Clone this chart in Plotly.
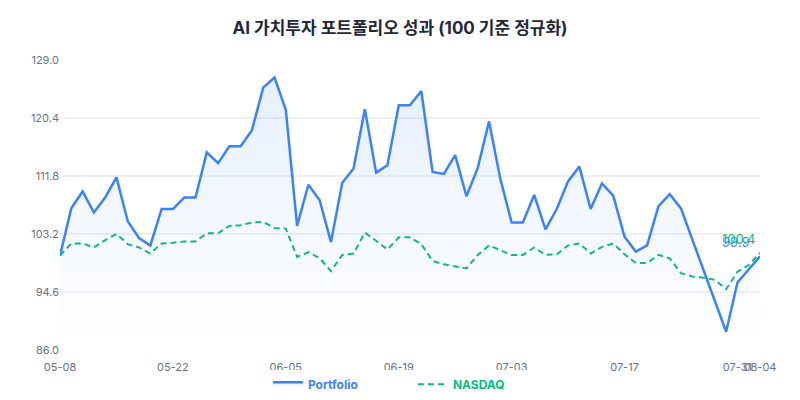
import plotly.graph_objects as go

dates = [
    "05-08", "05-09", "05-12", "05-13", "05-14", "05-15", "05-16",
    "05-19", "05-20", "05-21", "05-22", "05-23",
    "05-26", "05-27", "05-28", "05-29", "05-30",
    "06-02", "06-03", "06-04", "06-05", "06-06",
    "06-09", "06-10", "06-11", "06-12", "06-13",
    "06-16", "06-17", "06-18", "06-19", "06-20",
    "06-23", "06-24", "06-25", "06-26", "06-27",
    "06-30", "07-01", "07-02", "07-03", "07-04",
    "07-07", "07-08", "07-09", "07-10", "07-11",
    "07-14", "07-15", "07-16", "07-17", "07-18",
    "07-21", "07-22", "07-23", "07-24", "07-25",
    "07-28", "07-29", "07-30", "07-31", "08-01", "08-04",
]

portfolio = [
    100.0, 107.0, 109.5, 106.4, 108.6, 111.6, 105.1, 102.6, 101.5, 106.9,
    106.9, 108.6, 108.6, 115.3, 113.7, 116.2, 116.2, 118.6, 124.9, 126.4,
    121.6, 104.4, 110.5, 108.2, 102.0, 110.8, 112.9, 121.7, 112.3, 113.4,
    122.3, 122.3, 124.4, 112.4, 112.1, 114.9, 108.8, 113.0, 119.9, 111.4,
    104.9, 104.9, 109.0, 103.9, 106.9, 111.0, 113.2, 106.9, 110.7, 108.9,
    102.8, 100.6, 101.5, 107.3, 109.1, 107.0, 102.4, 97.9, 93.3, 88.7,
    96.0, 97.9, 99.9,
]

nasdaq = [
    100.0, 101.8, 101.8, 101.2, 102.3, 103.2, 101.7, 101.2, 100.3, 101.8,
    101.9, 102.1, 102.1, 103.3, 103.3, 104.4, 104.5, 104.9, 105.0, 104.1,
    104.0, 99.8, 100.5, 99.6, 97.7, 100.1, 100.3, 103.4, 102.2, 100.9,
    102.7, 102.7, 101.7, 99.2, 98.7, 98.4, 98.1, 100.1, 101.5, 100.8,
    100.1, 100.1, 101.2, 100.1, 100.2, 101.5, 101.8, 100.3, 101.3, 101.8,
    100.2, 98.9, 98.9, 100.1, 99.6, 97.4, 96.9, 96.7, 96.4, 95.0,
    97.6, 98.6, 100.4,
]

x_ticks = ["05-08", "05-22", "06-05", "06-19", "07-03", "07-17", "07-31", "08-04"]
y_ticks = [86.0, 94.6, 103.2, 111.8, 120.4, 129.0]

BLUE = "#3b82f6"
GREEN = "#10b981"
FONT = "Inter, 'Noto Sans CJK KR', sans-serif"

fig = go.Figure()
fig.add_trace(go.Scatter(
    x=dates, y=portfolio, mode="lines",
    name=f"<span style='color:{BLUE}'><b>Portfolio</b></span>",
    line=dict(color=BLUE, width=2.5),
    fill="tozeroy",
    fillgradient=dict(type="vertical", start=86, stop=129,
                      colorscale=[[0, "rgba(59,130,246,0.0)"],
                                  [1, "rgba(59,130,246,0.13)"]]),
))
fig.add_trace(go.Scatter(
    x=dates, y=nasdaq, mode="lines",
    name=f"<span style='color:{GREEN}'><b>NASDAQ</b></span>",
    line=dict(color=GREEN, width=2, dash="6px,4px"),
))

fig.add_annotation(x=dates[-1], y=portfolio[-1], text=f"{portfolio[-1]:.1f}",
                   showarrow=False, xanchor="left", yanchor="bottom",
                   xshift=-40, yshift=4, font=dict(color=BLUE, size=13, family=FONT))
fig.add_annotation(x=dates[-1], y=nasdaq[-1], text=f"{nasdaq[-1]:.1f}",
                   showarrow=False, xanchor="left", yanchor="bottom",
                   xshift=-40, yshift=4, font=dict(color=GREEN, size=13, family=FONT))

fig.update_layout(
    width=792, height=392,
    margin=dict(l=52, r=40, t=52, b=50),
    paper_bgcolor="white", plot_bgcolor="white",
    font=dict(family=FONT, color="#6b7280", size=11),
    title=dict(text="<b>AI 가치투자 포트폴리오 성과 (100 기준 정규화)</b>",
               x=0.495, xanchor="center", y=0.949, yanchor="middle",
               font=dict(size=17, color="#1f2937", family=FONT)),
    showlegend=True,
    legend=dict(orientation="h", x=0.297, xanchor="left",
                yref="container", y=0.040, yanchor="middle",
                font=dict(size=12, family=FONT), itemwidth=30, entrywidth=100),
    xaxis=dict(type="category", tickmode="array", tickvals=x_ticks, ticktext=x_ticks,
               showgrid=False, showline=False, zeroline=False,
               ticks="outside", ticklen=7, tickcolor="rgba(0,0,0,0)",
               tickangle=0, automargin=False,
               range=[0, len(dates) - 1], tickfont=dict(size=11, color="#6b7280")),
    yaxis=dict(range=[86, 129], tickmode="array", tickvals=y_ticks, tickformat=".1f",
               showgrid=True, gridcolor="#f0f0f3", gridwidth=1.5, zeroline=False,
               showline=False, ticks="", automargin=False,
               tickfont=dict(size=11, color="#6b7280")),
)

fig.write_html("out.html")
